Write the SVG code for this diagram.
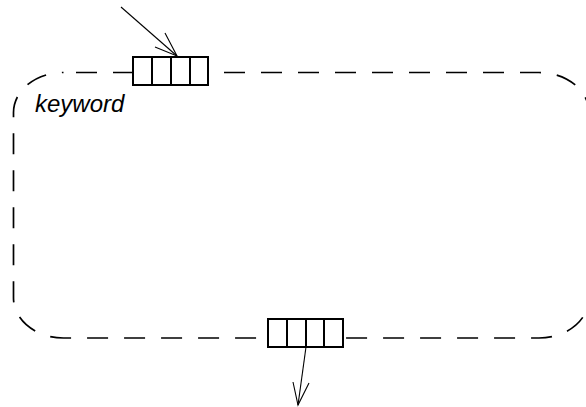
<svg xmlns="http://www.w3.org/2000/svg" width="586" height="407" viewBox="0 0 586 407">
<style>
.frame{fill:none;stroke:#000;stroke-width:1.7;stroke-dasharray:21 16;stroke-dashoffset:24.5}
.box{fill:#fff;stroke:#000;stroke-width:2}
.conn{fill:none;stroke:#000;stroke-width:1.1}
.lbl{font-family:"Liberation Sans",Arial,sans-serif;font-style:italic;font-size:24px;fill:#000}
</style>
<rect width="586" height="407" fill="#fff"/>
<g id="region">
<rect class="frame" x="13.5" y="72.5" width="575.5" height="265.5" rx="50" ry="40"/>
<text class="lbl" x="35" y="111.5">keyword</text>
</g>
<g id="port-top">
<rect class="box" x="133" y="57" width="75" height="28"/>
<line class="box" x1="152" y1="57" x2="152" y2="85"/>
<line class="box" x1="171" y1="57" x2="171" y2="85"/>
<line class="box" x1="190" y1="57" x2="190" y2="85"/>
</g>
<g id="port-bottom">
<rect class="box" x="268" y="319" width="75" height="28"/>
<line class="box" x1="287" y1="319" x2="287" y2="347"/>
<line class="box" x1="306" y1="319" x2="306" y2="347"/>
<line class="box" x1="324" y1="319" x2="324" y2="347"/>
</g>
<g id="connectors">
<line class="conn" x1="121" y1="7" x2="177" y2="56"/>
<polyline class="conn" points="165,33 177,56 155,47"/>
<line class="conn" x1="306" y1="347" x2="298" y2="405"/>
<polyline class="conn" points="293,382 298,405 309,383"/>
</g>
</svg>
